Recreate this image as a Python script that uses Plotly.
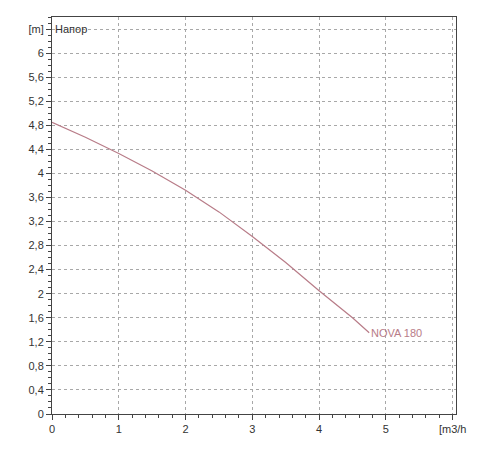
import plotly.graph_objects as go

# pump curve NOVA 180
flow = [0, 0.5, 1, 1.5, 2, 2.5, 3, 3.5, 4, 4.5, 4.75]
head = [4.85, 4.6, 4.33, 4.04, 3.72, 3.36, 2.95, 2.52, 2.05, 1.6, 1.35]

x_ticks = [0, 1, 2, 3, 4, 5, 6]
x_labels = ["0", "1", "2", "3", "4", "5", "[m3/h"]
y_ticks = [0, 0.4, 0.8, 1.2, 1.6, 2, 2.4, 2.8, 3.2, 3.6, 4, 4.4, 4.8, 5.2, 5.6, 6, 6.4]
y_labels = ["0", "0,4", "0,8", "1,2", "1,6", "2", "2,4", "2,8", "3,2", "3,6", "4",
            "4,4", "4,8", "5,2", "5,6", "6", "[m]"]

fig = go.Figure()
fig.add_trace(go.Scatter(x=flow, y=head, mode="lines",
                         line=dict(color="#b87c88", width=1.2), showlegend=False))
fig.add_annotation(x=flow[-1], y=head[-1], text="NOVA 180", showarrow=False,
                   xanchor="left", yanchor="middle", font=dict(color="#b87c88", size=11))
fig.add_annotation(x=0, y=6.4, text="Напор", showarrow=False, xanchor="left",
                   yanchor="middle", xshift=1, font=dict(color="#333", size=11))

grid = dict(showgrid=True, gridcolor="#a8a8a8", griddash="3px,3px", gridwidth=1,
            showline=True, linecolor="#444", mirror=True, zeroline=False,
            ticks="outside", ticklen=5, tickcolor="#444", automargin=False,
            tickfont=dict(size=11, color="#333"))
fig.update_xaxes(range=[0, 6.05], tickvals=x_ticks, ticktext=x_labels,
                 minor=dict(dtick=0.2, ticks="outside", ticklen=3, tickcolor="#444", showgrid=False),
                 **grid)
fig.update_yaxes(range=[0, 6.6], tickvals=y_ticks, ticktext=y_labels,
                 minor=dict(dtick=0.1, ticks="outside", ticklen=3, tickcolor="#444", showgrid=False),
                 **grid)
fig.update_layout(width=500, height=450, margin=dict(l=44, r=52, t=9, b=44),
                  plot_bgcolor="white", paper_bgcolor="white",
                  font=dict(family="Arial, Liberation Sans"))
fig.write_html("out.html")
